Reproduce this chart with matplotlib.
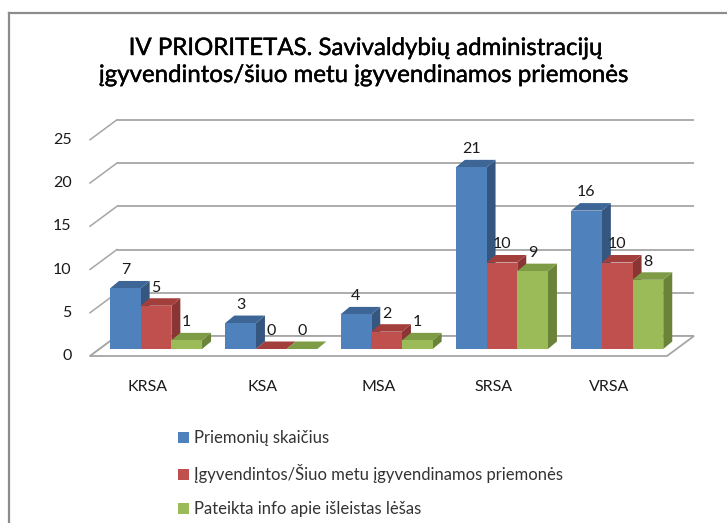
import matplotlib
matplotlib.use('Agg')
import matplotlib.pyplot as plt
from matplotlib.patches import Polygon
from matplotlib.lines import Line2D
import matplotlib.patheffects as pe

# ---------------- data ----------------
categories = ['KRSA', 'KSA', 'MSA', 'SRSA', 'VRSA']
priemoniu_skaicius = [7, 3, 4, 21, 16]
igyvendintos = [5, 0, 2, 10, 10]
pateikta_info = [1, 0, 1, 9, 8]
series_names = ['Priemonių skaičius',
                'Įgyvendintos/Šiuo metu įgyvendinamos priemonės',
                'Pateikta info apie išleistas lėšas']
y_ticks = [0, 5, 10, 15, 20, 25]
title_lines = ['IV PRIORITETAS. Savivaldybių administracijų',
               'įgyvendintos/šiuo metu įgyvendinamos priemonės']

series_values = [priemoniu_skaicius, igyvendintos, pateikta_info]
front_colors = ['#4F81BD', '#C0504D', '#9BBB59']
top_colors = ['#3D6697', '#A23F3C', '#7E9B46']
side_colors = ['#35577F', '#8A3533', '#6A8339']

plt.rcParams['font.family'] = ['Lato', 'DejaVu Sans']

W, H = 727, 523
fig = plt.figure(figsize=(W / 100, H / 100), dpi=100)
ax = fig.add_axes([0, 0, 1, 1])
ax.axis('off')

# geometry (pixel -> data mapping so that one category = one x unit)
ux, uy = 115.3, 8.65
x0_px, base_px = 156.0, 349.0
ax.set_xlim(-x0_px / ux, (W - x0_px) / ux)
ax.set_ylim((base_px - H) / uy, base_px / uy)

bar_w = 30.7 / ux
bdx, bdy = 9.0 / ux, 7.5 / uy          # bar depth
bx, by = 17.5 / ux, 13.0 / uy          # back wall offset
fx, fy = -9.5 / ux, -7.0 / uy          # front floor offset
plane_left = (99.5 - x0_px) / ux
plane_right = (676.5 - x0_px) / ux
grid_c = '#A6A6A6'

# back wall gridlines + left diagonals
for v in y_ticks:
    ax.plot([plane_left + bx, plane_right + bx], [v + by, v + by],
            color=grid_c, lw=1.3, zorder=1, solid_capstyle='butt')
    ax.plot([plane_left + fx, plane_left + bx], [v + fy, v + by],
            color=grid_c, lw=1.1, zorder=1)
    ax.text((71.5 - x0_px) / ux, v + fy, str(v), ha='right', va='center',
            fontsize=11.5, color='#1a1a1a')

# floor
floor = Polygon([(plane_left + fx, fy), (plane_right + fx, fy),
                 (plane_right + bx, by), (plane_left + bx, by)],
                closed=True, facecolor='white', edgecolor=grid_c, lw=1.3,
                zorder=2)
ax.add_patch(floor)

# bars
offsets = [-bar_w, 0.0, bar_w]
handles = []
for k, vals in enumerate(series_values):
    xs = [i + offsets[k] for i in range(len(categories))]
    bc = ax.bar(xs, vals, width=bar_w, color=front_colors[k],
                edgecolor='none', label=series_names[k])
    handles.append(bc)
    for i, (x, v, p) in enumerate(zip(xs, vals, bc.patches)):
        z = 10 + (i * 3 + k) * 3
        xl, xr = x - bar_w / 2, x + bar_w / 2
        side = Polygon([(xr, 0), (xr, v), (xr + bdx, v + bdy), (xr + bdx, bdy)],
                       closed=True, facecolor=side_colors[k], edgecolor='none',
                       zorder=z)
        top = Polygon([(xl, v), (xl + bdx, v + bdy), (xr + bdx, v + bdy), (xr, v)],
                      closed=True, facecolor=top_colors[k], edgecolor='none',
                      zorder=z + 1)
        ax.add_patch(side)
        ax.add_patch(top)
        p.set_zorder(z + 2)
        ax.text(x, v + 2.1, str(v), ha='center', va='center', fontsize=11.5,
                color='#1a1a1a', zorder=200)

# category labels on front edge of floor
for i, c in enumerate(categories):
    ax.text(i + (147.6 - x0_px) / ux, (base_px - 386.7) / uy, c,
            ha='center', va='center', fontsize=11.5, color='#1a1a1a')

# title
title_fx = [pe.withStroke(linewidth=0.3, foreground='black')]
fig.text(366 / W, 1 - 55 / H, title_lines[0], ha='center', va='baseline',
         fontsize=17.3, color='black', path_effects=title_fx)
fig.text(364 / W, 1 - 82 / H, title_lines[1], ha='center', va='baseline',
         fontsize=17.3, color='black', path_effects=title_fx)

# legend
fig.legend(handles, series_names, loc='upper left',
           bbox_to_anchor=(178 / W, 1 - 430 / H), frameon=False, fontsize=12.0,
           handlelength=0.64, handleheight=0.64, handletextpad=0.3,
           labelspacing=1.08, borderpad=0, borderaxespad=0,
           labelcolor='#333333')

# chart area frame (top and left visible)
fig.add_artist(Line2D([8.5 / W, 1], [1 - 12.5 / H, 1 - 12.5 / H],
                      transform=fig.transFigure, color='#8C8C8C', lw=1.6))
fig.add_artist(Line2D([8.5 / W, 8.5 / W], [0, 1 - 12.5 / H],
                      transform=fig.transFigure, color='#8C8C8C', lw=1.6))

fig.savefig('out.png', dpi=100)
